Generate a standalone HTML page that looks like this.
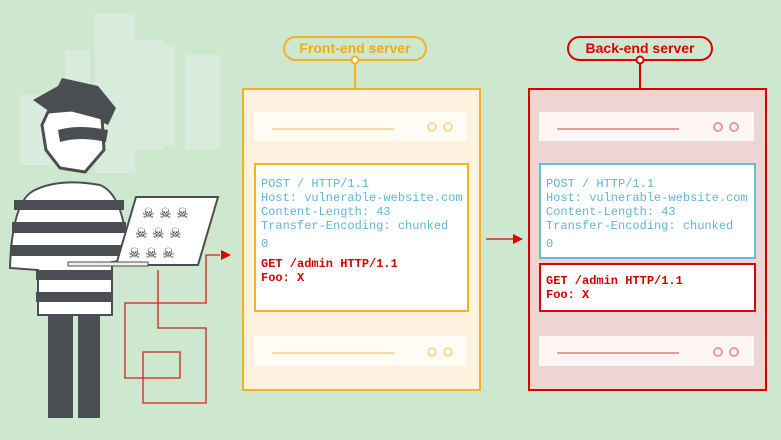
<!DOCTYPE html><html><head><style>
body{margin:0;width:781px;height:440px;background:#cde8cf;position:relative;overflow:hidden;font-family:"Liberation Sans",sans-serif}
.a{position:absolute;box-sizing:border-box}
.code{font-family:"Liberation Mono",monospace;font-size:12px;line-height:14px;position:absolute;white-space:pre}
.b{color:#5fb6d6}.r{color:#d00000;font-weight:bold}
</style></head><body>
<svg class="a" style="left:0;top:0" width="781" height="440">
<g fill="#dcece0" opacity="0.8"><rect x="95" y="13" width="40" height="160"/><rect x="65" y="50" width="25" height="120"/><rect x="135" y="40" width="30" height="110"/><rect x="155" y="45" width="20" height="100"/><rect x="185" y="55" width="35" height="95"/><rect x="20" y="95" width="40" height="70"/></g>
<g fill="#4a4e52">
<rect x="48" y="310" width="25" height="108"/><rect x="78" y="310" width="22" height="108"/>
<path d="M33 100 L58 86 L62 78 L98 86 L116 108 L108 125 L80 112 L50 112 Z"/>
</g>
<path d="M48 112 L72 110 L102 118 L104 150 L85 172 L60 168 L46 150 L42 125Z" fill="#fff" stroke="#4a4e52" stroke-width="3"/>
<path d="M58 130 Q78 124 108 130 L106 142 Q80 136 60 142Z" fill="#4a4e52"/>
<path d="M35 190 Q60 178 100 185 Q125 195 128 260 L112 262 L112 315 L38 315 L38 270 L10 268 Q12 200 35 190Z" fill="#fff" stroke="#4a4e52" stroke-width="2"/>
<g fill="#4a4e52"><rect x="14" y="200" width="110" height="10"/><rect x="12" y="222" width="114" height="11"/><rect x="10" y="245" width="115" height="11"/><rect x="36" y="270" width="76" height="10"/><rect x="36" y="292" width="76" height="10"/></g>
<path d="M136 197 L218 197 L198 265 L116 265Z" fill="#fff" stroke="#4a4e52" stroke-width="2"/>
<rect x="68" y="262" width="80" height="4" fill="#eee" stroke="#4a4e52"/>
<g font-size="14" fill="#222" font-family="DejaVu Sans"><text x="142" y="218">☠ ☠ ☠</text><text x="135" y="238">☠ ☠ ☠</text><text x="128" y="258">☠ ☠ ☠</text></g>
<path d="M158 270 V328 H206 V403 H143 V352 H180 V378 H125 V303 H206 V255 H220" fill="none" stroke="#d42020" stroke-width="1.3"/>
<polygon points="221,250 231,255 221,260" fill="#d00"/>
<line x1="486" y1="239" x2="514" y2="239" stroke="#d00" stroke-width="1.3"/>
<polygon points="513,234 523,239 513,244" fill="#d00"/>
<line x1="355" y1="60" x2="355" y2="88" stroke="#f5b120" stroke-width="2"/>
<line x1="640" y1="60" x2="640" y2="88" stroke="#d00" stroke-width="2"/>
</svg>
<div class="a" style="left:283px;top:36px;width:144px;height:25px;border:2px solid #f5b120;border-radius:13px;background:#cde8cf;color:#f5a910;font-weight:bold;font-size:14px;text-align:center;line-height:21px">Front-end server</div>
<div class="a" style="left:567px;top:36px;width:146px;height:25px;border:2px solid #d00;border-radius:13px;background:#cde8cf;color:#d00;font-weight:bold;font-size:14px;text-align:center;line-height:21px">Back-end server</div>
<svg class="a" style="left:0;top:0" width="781" height="100"><circle cx="355" cy="60" r="3.5" fill="#fff" stroke="#f5b120" stroke-width="2"/><circle cx="640" cy="60" r="3.5" fill="#fff" stroke="#d00" stroke-width="2"/></svg>

<div class="a" style="left:242px;top:88px;width:239px;height:303px;background:#fdf2df;border:2px solid #f5b120"></div>
<div class="a" style="left:254px;top:112px;width:212px;height:29px;background:#fffcf5"></div>
<div class="a" style="left:272px;top:128px;width:122px;height:2px;background:#fad99a"></div>
<div class="a" style="left:427px;top:122px;width:10px;height:10px;border:2px solid #fad99a;border-radius:50%"></div>
<div class="a" style="left:443px;top:122px;width:10px;height:10px;border:2px solid #fad99a;border-radius:50%"></div>
<div class="a" style="left:254px;top:163px;width:215px;height:149px;background:#fff;border:2px solid #f5b120"></div>
<div class="code b" style="left:261px;top:177px">POST / HTTP/1.1
Host: vulnerable-website.com
Content-Length: 43
Transfer-Encoding: chunked</div>
<div class="code b" style="left:261px;top:237px">0</div>
<div class="code r" style="left:261px;top:257px">GET /admin HTTP/1.1
Foo: X</div>
<div class="a" style="left:254px;top:336px;width:212px;height:30px;background:#fffcf5"></div>
<div class="a" style="left:272px;top:352px;width:122px;height:2px;background:#fad99a"></div>
<div class="a" style="left:427px;top:347px;width:10px;height:10px;border:2px solid #fad99a;border-radius:50%"></div>
<div class="a" style="left:443px;top:347px;width:10px;height:10px;border:2px solid #fad99a;border-radius:50%"></div>

<div class="a" style="left:528px;top:88px;width:239px;height:303px;background:#ecd5d2;border:2px solid #d00"></div>
<div class="a" style="left:539px;top:112px;width:215px;height:29px;background:#fdf6f5"></div>
<div class="a" style="left:557px;top:128px;width:122px;height:2px;background:#ee9a9a"></div>
<div class="a" style="left:713px;top:122px;width:10px;height:10px;border:2px solid #ee9a9a;border-radius:50%"></div>
<div class="a" style="left:729px;top:122px;width:10px;height:10px;border:2px solid #ee9a9a;border-radius:50%"></div>
<div class="a" style="left:539px;top:163px;width:217px;height:96px;background:#fff;border:2px solid #6bbbd8"></div>
<div class="code b" style="left:546px;top:177px">POST / HTTP/1.1
Host: vulnerable-website.com
Content-Length: 43
Transfer-Encoding: chunked</div>
<div class="code b" style="left:546px;top:237px">0</div>
<div class="a" style="left:539px;top:263px;width:217px;height:49px;background:#fff;border:2px solid #d00"></div>
<div class="code r" style="left:546px;top:274px">GET /admin HTTP/1.1
Foo: X</div>
<div class="a" style="left:539px;top:336px;width:215px;height:30px;background:#fdf6f5"></div>
<div class="a" style="left:557px;top:352px;width:122px;height:2px;background:#ee9a9a"></div>
<div class="a" style="left:713px;top:347px;width:10px;height:10px;border:2px solid #ee9a9a;border-radius:50%"></div>
<div class="a" style="left:729px;top:347px;width:10px;height:10px;border:2px solid #ee9a9a;border-radius:50%"></div>
</body></html>
